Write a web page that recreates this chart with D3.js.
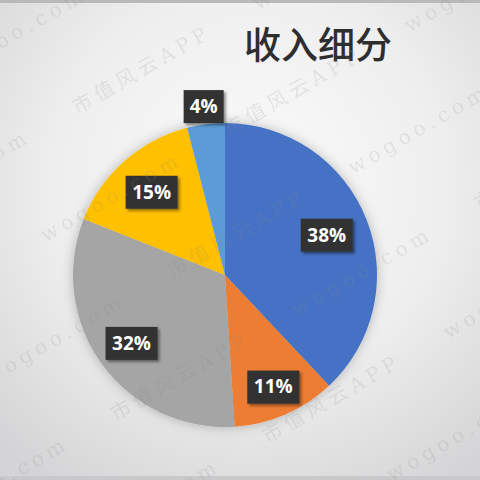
<!DOCTYPE html>
<html>
<head>
<meta charset="utf-8">
<script src="https://cdn.jsdelivr.net/npm/d3@7"></script>
<style>
  html, body { margin: 0; padding: 0; background: #e6e6e6; }
  svg { display: block; }
</style>
</head>
<body>
<svg id="chart" width="480" height="480"></svg>
<script>
// revenue breakdown, clockwise from 12 o'clock
const categories = ["A", "B", "C", "D", "E"];
const shares = [38, 11, 32, 15, 4];
const labels = ["38%", "11%", "32%", "15%", "4%"];
const title = "收入细分";
const watermarks = ["市值风云APP", "wogoo.com"];

const colors = ["#4472c4", "#ed7d31", "#a5a5a5", "#ffc000", "#5b9bd5"];
// label distance from centre, as a fraction of the radius
const labelRadius = [0.72, 0.80, 0.76, 0.73, 1.12];

const width = 480;
const height = 480;
const cx = 225;
const cy = 275;
const radius = 152;

const svg = d3.select("#chart");
const defs = svg.append("defs");

const bg = defs.append("radialGradient")
    .attr("id", "bg")
    .attr("cx", "0.52").attr("cy", "0.38").attr("r", "0.75");
bg.append("stop").attr("offset", "0%").attr("stop-color", "#fbfbfb");
bg.append("stop").attr("offset", "55%").attr("stop-color", "#eeeeee");
bg.append("stop").attr("offset", "100%").attr("stop-color", "#d4d4d6");

const pieShadow = defs.append("filter").attr("id", "pieshadow")
    .attr("x", "-20%").attr("y", "-20%").attr("width", "140%").attr("height", "140%");
pieShadow.append("feDropShadow")
    .attr("dx", 0).attr("dy", 0).attr("stdDeviation", 6)
    .attr("flood-color", "#000").attr("flood-opacity", 0.25);

const boxShadow = defs.append("filter").attr("id", "boxshadow")
    .attr("x", "-30%").attr("y", "-30%").attr("width", "160%").attr("height", "160%");
boxShadow.append("feDropShadow")
    .attr("dx", 2).attr("dy", 2).attr("stdDeviation", 1.5)
    .attr("flood-color", "#000").attr("flood-opacity", 0.45);

svg.append("rect")
    .attr("width", width).attr("height", height)
    .attr("fill", "url(#bg)");

// thin darker strips at the top and bottom edges
svg.append("rect").attr("x", 0).attr("y", 0).attr("width", width).attr("height", 3)
    .attr("fill", "#b9b9b9");
svg.append("rect").attr("x", 0).attr("y", 476).attr("width", width).attr("height", 4)
    .attr("fill", "#c9c9cb");

svg.append("text")
    .attr("x", 318).attr("y", 59)
    .attr("text-anchor", "middle")
    .attr("font-family", "'Noto Sans CJK SC', sans-serif")
    .attr("font-weight", 500)
    .attr("font-size", 37)
    .attr("fill", "#2e2e2e")
    .text(title);

const data = categories.map((c, i) => ({ key: c, value: shares[i], label: labels[i], i }));

const pie = d3.pie().value(d => d.value).sort(null);
const arcs = pie(data);
const arc = d3.arc().innerRadius(0).outerRadius(radius);

const g = svg.append("g").attr("transform", `translate(${cx},${cy})`);

g.append("g")
    .attr("filter", "url(#pieshadow)")
    .selectAll("path")
    .data(arcs)
    .join("path")
    .attr("d", arc)
    .attr("fill", d => colors[d.data.i]);

const lab = g.append("g").selectAll("g")
    .data(arcs)
    .join("g")
    .attr("transform", d => {
        const r = radius * labelRadius[d.data.i];
        const a = d3.arc().innerRadius(r).outerRadius(r);
        return `translate(${a.centroid(d)})`;
    });

lab.append("rect")
    .attr("x", d => d.data.label.length > 2 ? -26 : -20)
    .attr("y", -16)
    .attr("width", d => d.data.label.length > 2 ? 52 : 40)
    .attr("height", 33)
    .attr("fill", "#323232")
    .attr("filter", "url(#boxshadow)");

lab.append("text")
    .attr("text-anchor", "middle")
    .attr("dy", "0.36em")
    .attr("font-family", "'Open Sans', 'DejaVu Sans', sans-serif")
    .attr("font-weight", 700)
    .attr("font-size", 19)
    .attr("fill", "#fff")
    .text(d => d.data.label);

// faint diagonal watermark over the whole picture, kept inside the frame
defs.append("clipPath").attr("id", "frame")
    .append("rect").attr("width", width).attr("height", height);

const wm = svg.append("g")
    .attr("clip-path", "url(#frame)")
    .append("g")
    .attr("transform", "rotate(-30 240 240)")
    .attr("fill", "#8a8a8a")
    .attr("fill-opacity", 0.18)
    .attr("font-family", "'DejaVu Serif', 'Noto Sans CJK SC', serif")
    .attr("font-size", 20)
    .attr("letter-spacing", 5);

for (let row = -3; row <= 5; row++) {
    for (let col = -2; col <= 3; col++) {
        const text = watermarks[(((row + col) % 2) + 2) % 2];
        wm.append("text")
            .attr("x", 240 + col * 210 + (row % 2) * 90)
            .attr("y", 240 + row * 95)
            .attr("text-anchor", "middle")
            .text(text);
    }
}
</script>
</body>
</html>
